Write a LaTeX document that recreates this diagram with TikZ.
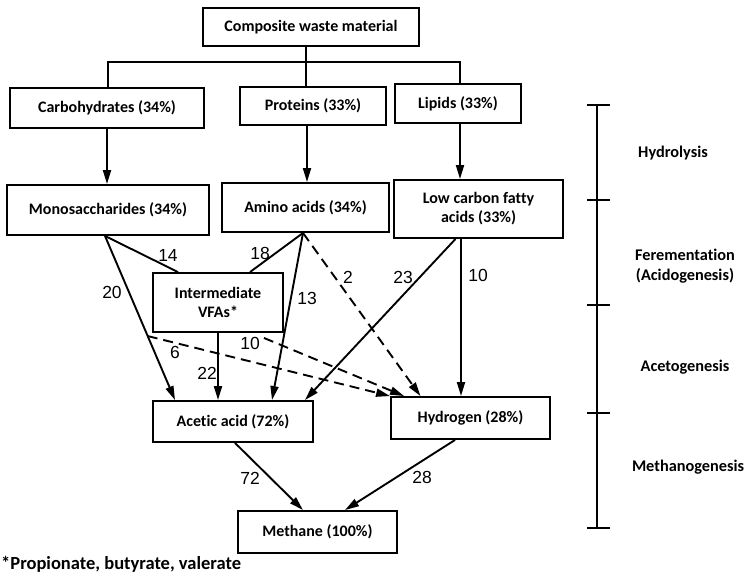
\documentclass[tikz,border=0pt]{standalone}
\usepackage{fontspec}
\setmainfont{Carlito}[BoldFont={Carlito Bold}, Ligatures=NoCommon]
\newfontfamily\numfont{Liberation Sans}
\usetikzlibrary{arrows.meta,calc}
\begin{document}
\begin{tikzpicture}[x=1pt,y=-1pt,
  box/.style={draw, line width=1.9pt, align=center, inner sep=0pt, font=\bfseries\fontsize{16}{19}\selectfont},
  con/.style={line width=1.9pt},
  arr/.style={con, -{Triangle[length=14pt,width=8pt]}},
  dsh/.style={arr, dash pattern=on 10pt off 6pt},
  num/.style={font=\numfont\fontsize{17.5}{19}\selectfont, inner sep=0pt},
  phase/.style={font=\bfseries\fontsize{16.3}{19.5}\selectfont, align=center, inner sep=0pt}]
\useasboundingbox (0,0) rectangle (746,574);

% boxes
\node[box, minimum width=216pt, minimum height=38pt] (comp) at (311,27) {Composite waste material};
\node[box, minimum width=194pt, minimum height=40pt] (carb) at (107,108) {Carbohydrates (34\%)};
\node[box, minimum width=146pt, minimum height=38pt] (prot) at (313,106) {Proteins (33\%)};
\node[box, minimum width=126pt, minimum height=39pt] (lip) at (458,103.5) {Lipids (33\%)};
\node[box, minimum width=202pt, minimum height=50pt] (mono) at (108,210) {Monosaccharides (34\%)};
\node[box, minimum width=167pt, minimum height=49pt] (amino) at (305.5,207.5) {Amino acids (34\%)};
\node[box, minimum width=169pt, minimum height=58pt] (lcfa) at (478.5,209) {Low carbon fatty\\acids (33\%)};
\node[box, minimum width=130pt, minimum height=59pt] (vfa) at (218,302.5) {Intermediate\\VFAs*};
\node[box, minimum width=160pt, minimum height=41pt] (acetic) at (233,421.5) {Acetic acid (72\%)};
\node[box, minimum width=159pt, minimum height=42pt] (hydro) at (470.5,418) {Hydrogen (28\%)};
\node[box, minimum width=159pt, minimum height=42pt] (meth) at (317.5,532) {Methane (100\%)};

% hydrolysis tree
\coordinate (busL) at (108,62);
\coordinate (busR) at (460,62);
\coordinate (busM) at (306,62);
\draw[con] (busL |- carb.north) -- (busL) -- (busR) -- (busR |- lip.north);
\draw[con] (busM |- comp.south) -- (busM |- prot.north);

\coordinate (pA) at (307,0);
\draw[arr] (carb.south) -- (carb.south |- mono.north);
\draw[arr] (pA |- prot.south) -- (pA |- amino.north);
\draw[arr] (busR |- lip.south) -- (busR |- lcfa.north);

% fermentation / acetogenesis
\coordinate (M) at ([xshift=-3pt]mono.south);
\coordinate (A) at ([xshift=-2.5pt]amino.south);
\coordinate (L) at ([xshift=-23pt]lcfa.south);
\coordinate (L2) at ([xshift=-17.5pt]lcfa.south);
\coordinate (acA) at ([xshift=-58pt]acetic.north);

\draw[con] (M) -- ([xshift=-40pt]vfa.north);
\draw[arr] (M) -- (acA);
\draw[con] (A) -- ([xshift=32pt]vfa.north);
\draw[arr] (A) -- ([xshift=39pt]acetic.north);
\draw[dsh] (A) -- ([xshift=-50pt]hydro.north);
\draw[arr] (L) -- ([xshift=72pt]acetic.north);
\draw[arr] (L2) -- (L2 |- hydro.north);
\draw[arr] (vfa.south) -- (vfa.south |- acetic.north);

\coordinate (d6) at ($(M)!0.61!(acA)$);
\coordinate (d10) at ([xshift=-20pt,yshift=-5pt]vfa.south east);
\draw[dsh] (d6) -- (hydro.north west);
\draw[dsh] (d10) -- ([xshift=14pt]hydro.north west);

% methanogenesis
\draw[arr] ([xshift=2pt]acetic.south) -- ([xshift=-14.5pt]meth.north);
\draw[arr] ([xshift=-15.5pt]hydro.south) -- ([xshift=27.5pt]meth.north);

% connector labels
\node[num] (n14) at (168,255) {14};
\node[num] (n20) at (112,292) {20};
\node[num] (n18) at (260,253) {18};
\node[num] (n13) at (307,298) {13};
\node[num] (n2) at (348,277) {2};
\node[num] (n23) at (403,277) {23};
\node[num] (n10a) at (478,275) {10};
\node[num] (n22) at (207,373) {22};
\node[num] (n6) at (175,352) {6};
\node[num] (n10b) at (250,343) {10};
\node[num] (n72) at (250,478) {72};
\node[num] (n28) at (422,477) {28};

% phase bar
\coordinate (t0) at (597,105);
\coordinate (t1) at (597,200);
\coordinate (t2) at (597,305);
\coordinate (t3) at (597,413);
\coordinate (t4) at (597,528);
\draw[line width=1.4pt] (t0) -- (t4);
\foreach \t in {t0,t1,t2,t3,t4}
  \draw[line width=1.4pt] ([xshift=-10pt]\t) -- ([xshift=13pt]\t);
\node[phase] (ph1) at (673,153) {Hydrolysis};
\node[phase] (ph2) at (685,266) {Ferementation\\(Acidogenesis)};
\node[phase] (ph3) at (685,367) {Acetogenesis};
\node[phase] (ph4) at (688,467) {Methanogenesis};

% footnote
\node[phase, anchor=west, font=\bfseries\fontsize{18.5}{20}\selectfont] (foot) at (1,564) {*Propionate, butyrate, valerate};
\end{tikzpicture}
\end{document}
